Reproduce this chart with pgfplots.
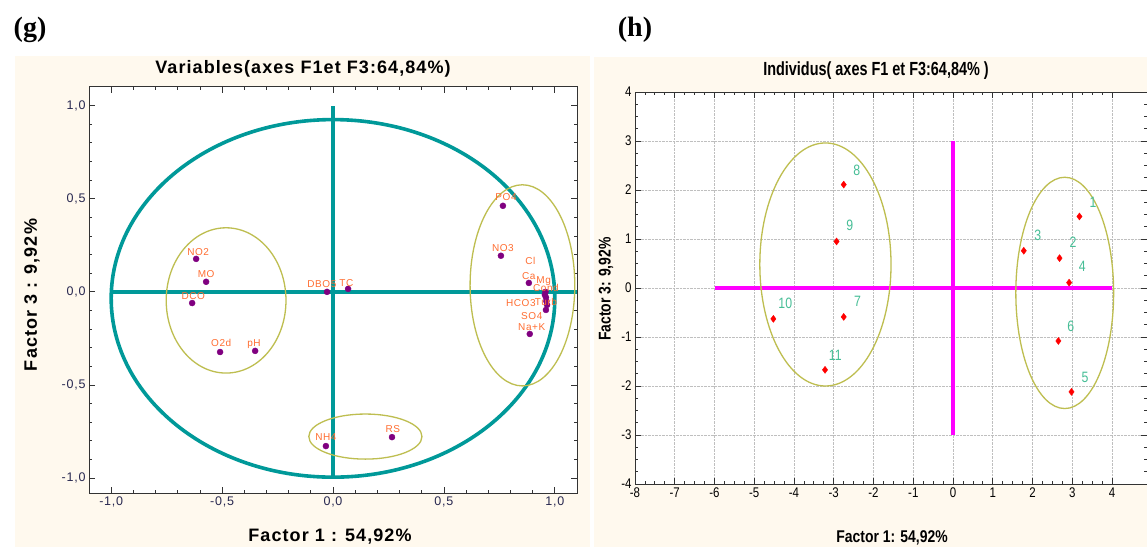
\documentclass[border=0pt]{standalone}
\usepackage{fontspec}
\setmainfont{Liberation Sans}
\newfontfamily\narrow[FakeStretch=0.76]{Liberation Sans}
\newfontfamily\narrowb[FakeStretch=0.82]{Liberation Sans}
\newfontfamily\wide[LetterSpace=6]{Liberation Sans}
\newfontfamily\serifb{Liberation Serif}
\usepackage{pgfplots}
\pgfplotsset{compat=1.18}
\definecolor{cream}{RGB}{255,249,238}
\definecolor{tealc}{RGB}{0,153,153}
\definecolor{olivec}{RGB}{190,190,80}
\definecolor{orangel}{RGB}{255,110,50}
\definecolor{purp}{RGB}{128,0,128}
\definecolor{greenl}{RGB}{70,190,150}
\definecolor{tickc}{RGB}{40,40,80}
\definecolor{magc}{RGB}{255,0,255}

\pgfplotstableread{
x y
0.766 0.462
0.757 0.194
0.883 0.048
0.955 -0.016
0.960 -0.030
0.962 -0.050
0.965 -0.070
0.960 -0.097
0.958 0.000
0.887 -0.226
-0.617 0.177
-0.572 0.054
-0.635 -0.060
-0.509 -0.323
-0.351 -0.317
-0.027 0.000
0.068 0.016
-0.032 -0.828
0.266 -0.780
}\varpts

\pgfplotstableread{
x y label
0.780 0.510 PO4
0.766 0.237 NO3
0.890 0.167 Cl
0.883 0.086 Ca
0.950 0.060 Mg
0.960 0.020 Cond
0.847 -0.060 HCO3
0.960 -0.054 Turb
0.896 -0.130 SO4
0.896 -0.188 Na+K
-0.608 0.215 NO2
-0.572 0.097 MO
-0.630 -0.020 DCO
-0.504 -0.275 O2d
-0.356 -0.280 pH
-0.050 0.043 DBO5
0.060 0.048 TC
-0.032 -0.780 NH4
0.270 -0.737 RS
}\varlabs

\pgfplotstableread{
x y
3.18 1.46
2.68 0.61
1.78 0.76
2.92 0.11
2.98 -2.12
2.65 -1.08
-2.75 -0.59
-2.75 2.11
-2.93 0.95
-4.52 -0.63
-3.22 -1.67
}\indpts

\pgfplotstableread{
x y label
3.52 1.74 1
3.02 0.93 2
2.13 1.07 3
3.25 0.44 4
3.32 -1.82 5
2.96 -0.78 6
-2.40 -0.28 7
-2.42 2.40 8
-2.60 1.28 9
-4.22 -0.32 10
-2.96 -1.38 11
}\indlabs

\begin{document}
\begin{tikzpicture}
\useasboundingbox (0pt,0pt) rectangle (1147pt,547pt);
\fill[cream] (15pt,0pt) rectangle (590pt,491pt);
\fill[cream] (594pt,0pt) rectangle (1147pt,490pt);
\node[font=\serifb\bfseries\fontsize{28}{28}\selectfont, inner sep=0] at (30pt,517pt) {(g)};
\node[font=\serifb\bfseries\fontsize{28}{28}\selectfont, inner sep=0] at (635pt,517pt) {(h)};
\node[font=\wide\bfseries\fontsize{18}{18}\selectfont, inner sep=0] at (303pt,478pt) {Variables(axes F1et F3:64,84\%)};
\node[font=\narrow\bfseries\fontsize{19}{19}\selectfont, inner sep=0] at (876pt,476pt) {Individus( axes F1 et F3:64,84\% )};
\node[font=\wide\bfseries\fontsize{18}{18}\selectfont, inner sep=0] at (330pt,10pt) {Factor 1 : 54,92\%};
\node[font=\wide\bfseries\fontsize{18}{18}\selectfont, inner sep=0, rotate=90] at (32pt,252pt) {Factor 3 : 9,92\%};
\node[font=\narrowb\bfseries\fontsize{17}{17}\selectfont, inner sep=0] at (892pt,9pt) {Factor 1: 54,92\%};
\node[font=\narrowb\bfseries\fontsize{17}{17}\selectfont, inner sep=0, rotate=90] at (606pt,258pt) {Factor 3: 9,92\%};

\begin{axis}[at={(89pt,54pt)}, anchor=south west, scale only axis,
  width=488pt, height=406pt,
  xmin=-1.1, xmax=1.1, ymin=-1.08, ymax=1.1,
  axis background/.style={fill=white},
  axis line style={line width=1pt, black!80},
  xtick={-1,-0.5,0,0.5,1}, ytick={-1,-0.5,0,0.5,1},
  minor x tick num=4, minor y tick num=4,
  tick align=inside, major tick length=6pt, minor tick length=3pt,
  tick style={black!80, line width=0.8pt},
  /pgf/number format/.cd, fixed, fixed zerofill, precision=1, use comma, assume math mode=true,
  /pgfplots/.cd,
  ticklabel style={font=\wide\fontsize{12.5}{12.5}\selectfont, text=tickc},
  clip=false]
\draw[tealc, line width=3.6pt] (axis cs:0,-0.035) ellipse [x radius=1.0, y radius=0.96];
\addplot[tealc, line width=3.6pt] coordinates {(-1,0) (1.1,0)};
\addplot[tealc, line width=3.6pt] coordinates {(0,-1) (0,1)};
\draw[olivec, line width=1.3pt] (axis cs:-0.482,-0.046) ellipse [x radius=0.27, y radius=0.39];
\draw[olivec, line width=1.3pt] (axis cs:0.854,0.035) ellipse [x radius=0.236, y radius=0.54];
\draw[olivec, line width=1.3pt] (axis cs:0.146,-0.777) ellipse [x radius=0.255, y radius=0.121];
\addplot[only marks, mark=*, mark size=3pt, purp] table {\varpts};
\addplot[draw=none, mark=none, nodes near coords, point meta=explicit symbolic,
  nodes near coords align=center,
  every node near coord/.append style={font=\wide\fontsize{10}{10}\selectfont, text=orangel, inner sep=0pt}]
  table[meta=label] {\varlabs};
\end{axis}

\begin{axis}[at={(635pt,63pt)}, anchor=south west, scale only axis,
  width=512pt, height=392pt,
  xmin=-8, xmax=4.88, ymin=-4, ymax=4,
  axis background/.style={fill=white},
  axis line style={line width=1pt, black!80},
  xtick={-8,...,4}, ytick={-4,...,4},
  minor x tick num=3, minor y tick num=3,
  tick align=inside, major tick length=6pt, minor tick length=3pt,
  tick style={black!80, line width=0.8pt},
  grid=major, grid style={densely dotted, black!25, line width=0.8pt},
  /pgf/number format/assume math mode=true,
  ticklabel style={font=\narrowb\fontsize{14}{14}\selectfont, text=black},
  clip=false]
\addplot[magc, line width=3.5pt] coordinates {(-6,0) (4,0)};
\addplot[magc, line width=3.5pt] coordinates {(0,-3) (0,3)};
\draw[olivec, line width=1.3pt] (axis cs:-3.21,0.48) ellipse [x radius=1.65, y radius=2.48];
\draw[olivec, line width=1.3pt] (axis cs:2.81,-0.1) ellipse [x radius=1.23, y radius=2.36];
\addplot[only marks, mark=diamond*, mark size=3.5pt, red] table {\indpts};
\addplot[draw=none, mark=none, nodes near coords, point meta=explicit symbolic,
  nodes near coords align=center,
  every node near coord/.append style={font=\narrowb\fontsize{15}{15}\selectfont, text=greenl, inner sep=0pt}]
  table[meta=label] {\indlabs};
\end{axis}
\end{tikzpicture}
\end{document}
